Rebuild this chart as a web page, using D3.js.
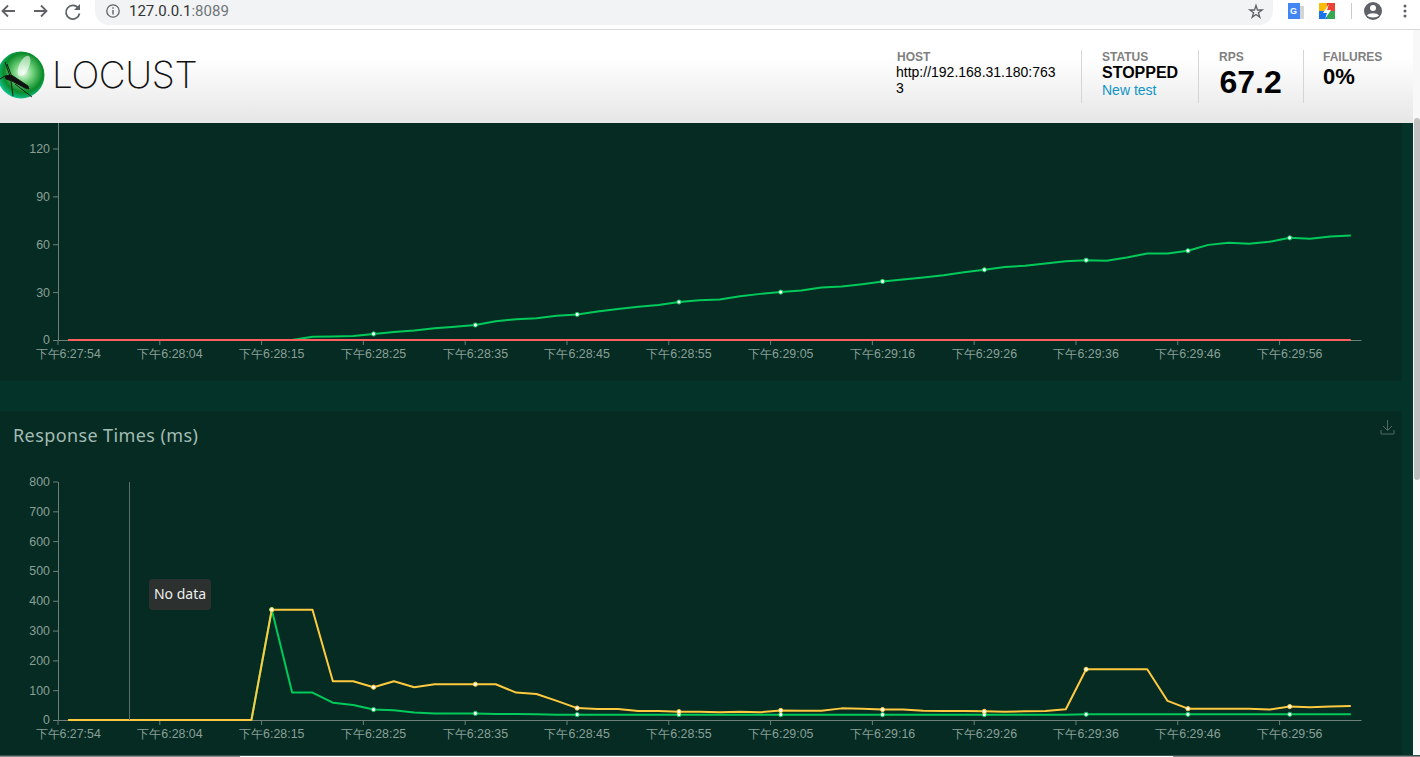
<!DOCTYPE html>
<html>
<head>
<meta charset="utf-8">
<script src="https://cdnjs.cloudflare.com/ajax/libs/d3/7.8.5/d3.min.js"></script>
<style>
  html, body { margin: 0; padding: 0; background: #fff; overflow: hidden; }
  svg { display: block; font-family: "Liberation Sans", "Noto Sans CJK SC", sans-serif; }
</style>
</head>
<body>
<script>
// sample times of the charts, one per point
const times = [
  "6:27:54","6:27:56","6:27:58","6:28:00","6:28:02","6:28:04","6:28:06","6:28:08","6:28:10","6:28:12",
  "6:28:15","6:28:17","6:28:19","6:28:21","6:28:23","6:28:25","6:28:27","6:28:29","6:28:31","6:28:33",
  "6:28:35","6:28:37","6:28:39","6:28:41","6:28:43","6:28:45","6:28:47","6:28:49","6:28:51","6:28:53",
  "6:28:55","6:28:57","6:28:59","6:29:01","6:29:03","6:29:05","6:29:07","6:29:09","6:29:11","6:29:13",
  "6:29:16","6:29:18","6:29:20","6:29:22","6:29:24","6:29:26","6:29:28","6:29:30","6:29:32","6:29:34",
  "6:29:36","6:29:38","6:29:40","6:29:42","6:29:44","6:29:46","6:29:48","6:29:50","6:29:52","6:29:54",
  "6:29:56","6:29:58","6:30:00","6:30:02"
];

const rps = [
  0,0,0,0,0,0,0,0,0,0,
  0,0,2,2.2,2.5,3.8,5,6,7.4,8.3,
  9.4,11.8,13,13.7,15.2,16,17.8,19.4,20.9,22,
  23.8,24.9,25.4,27.4,28.9,30,31,32.9,33.5,35,
  36.7,37.9,39.2,40.6,42.5,44,45.8,46.5,47.9,49.4,
  50,49.6,51.7,54.2,54.2,55.9,59.6,60.9,60.3,61.5,
  64,63.4,64.8,65.5
];
const failures = times.map(() => 0);

const median = [
  0,0,0,0,0,0,0,0,0,0,
  370,92,92,58,50,35,33,25,22,22,
  22,20,20,19,18,18,18,18,18,18,
  18,18,18,18,18,18,18,18,18,18,
  18,18,18,18,18,18,18,18,18,18,
  19,19,19,19,19,19,19,19,19,19,
  19,19,19,19
];
const p95 = [
  0,0,0,0,0,0,0,0,0,0,
  370,370,370,130,130,110,130,110,120,120,
  120,120,92,87,64,40,37,37,30,30,
  28,28,26,28,26,32,31,31,39,38,
  35,35,31,30,30,29,28,29,30,36,
  170,170,170,170,64,38,38,38,38,35,
  45,43,45,47
];

const rpsTicks = [0, 30, 60, 90, 120];
const msTicks = [0, 100, 200, 300, 400, 500, 600, 700, 800];

const C_PAGE = "#04332a", C_PANEL = "#052b23", C_AXIS = "#6c8079", C_LABEL = "#8aa097";
const C_GREEN = "#00ca5a", C_RED = "#ff5f5f", C_YELLOW = "#ffca3f";

const W = 1420, H = 757;
const svg = d3.select("body").append("svg").attr("width", W).attr("height", H);

// page and panels
svg.append("rect").attr("width", W).attr("height", H).attr("fill", C_PAGE);
svg.append("rect").attr("x", -6).attr("y", 100).attr("width", 1408).attr("height", 281).attr("rx", 4).attr("fill", C_PANEL);
svg.append("rect").attr("x", -6).attr("y", 411).attr("width", 1408).attr("height", 360).attr("rx", 4).attr("fill", C_PANEL);

const x = d3.scaleBand().domain(d3.range(times.length)).range([58, 1361]);

function drawChart(y, ticks, seriesList, y0) {
  const g = svg.append("g");

  const xAxis = d3.axisBottom(x)
    .tickValues(d3.range(0, times.length, 5))
    .tickFormat(i => "下午" + times[i])
    .tickSize(5)
    .tickSizeOuter(0)
    .tickPadding(4);
  const ax = g.append("g").attr("transform", `translate(0,${y0})`).call(xAxis);
  ax.selectAll(".tick line").attr("x1", -x.step() / 2).attr("x2", -x.step() / 2);
  ax.selectAll("text").attr("font-size", 12.4).attr("fill", C_LABEL);
  ax.selectAll("path,line").attr("stroke", C_AXIS);

  const yAxis = d3.axisLeft(y).tickValues(ticks).tickSize(5).tickSizeOuter(0).tickPadding(3);
  const ay = g.append("g").attr("transform", "translate(58,0)").call(yAxis);
  ay.selectAll("text").attr("font-size", 12.4).attr("fill", C_LABEL);
  ay.selectAll("path,line").attr("stroke", C_AXIS);

  const line = d3.line()
    .x((d, i) => x(i) + x.bandwidth() / 2)
    .y(d => y(d));

  seriesList.forEach(s => {
    g.append("path").datum(s.values)
      .attr("fill", "none").attr("stroke", s.color).attr("stroke-width", 2)
      .attr("stroke-linejoin", "round").attr("d", line);
  });
  seriesList.forEach(s => {
    if (!s.symbols) return;
    g.selectAll(null)
      .data(s.values.map((v, i) => ({ v, i })).filter(d => d.i % 5 === 0 && d.v > 0))
      .join("circle")
      .attr("cx", d => x(d.i) + x.bandwidth() / 2)
      .attr("cy", d => y(d.v))
      .attr("r", 2.1)
      .attr("fill", "#fff")
      .attr("stroke", s.color)
      .attr("stroke-width", 1);
  });
  return g;
}

// requests per second, top of the axis runs under the header
const yRps = d3.scaleLinear().domain([0, 150]).range([340, 100.6]);
drawChart(yRps, rpsTicks, [
  { values: rps, color: C_GREEN, symbols: true },
  { values: failures, color: C_RED, symbols: false }
], 340);

// response times
const yMs = d3.scaleLinear().domain([0, 800]).range([720, 481.5]);
drawChart(yMs, msTicks, [
  { values: median, color: C_GREEN, symbols: true },
  { values: p95, color: C_YELLOW, symbols: true }
], 720);

svg.append("text").text("Response Times (ms)")
  .attr("x", 13).attr("y", 442).attr("font-size", 18).attr("letter-spacing", 0.4)
  .attr("font-family", "'Noto Sans', sans-serif").attr("fill", "#a3bcb3");

// download icon
svg.append("path").attr("d", "M1387.5 420v10M1383 426l4.5 4.5 4.5-4.5M1381 430v4h13v-4")
  .attr("fill", "none").attr("stroke", "#51695f").attr("stroke-width", 1);

// hover line and tooltip
svg.append("line").attr("x1", 129.5).attr("x2", 129.5).attr("y1", 482).attr("y2", 720)
  .attr("stroke", "#5b6f69").attr("stroke-width", 1);
svg.append("rect").attr("x", 149).attr("y", 579).attr("width", 62).attr("height", 31).attr("rx", 4).attr("fill", "#2c302e");
svg.append("text").text("No data").attr("x", 180).attr("y", 599).attr("text-anchor", "middle")
  .attr("font-size", 14).attr("font-family", "'Noto Sans', sans-serif").attr("fill", "#eee");

// header
const defs = svg.append("defs");
const headGrad = defs.append("linearGradient").attr("id", "headGrad").attr("x1", 0).attr("x2", 0).attr("y1", 0).attr("y2", 1);
headGrad.append("stop").attr("offset", "0%").attr("stop-color", "#fff");
headGrad.append("stop").attr("offset", "30%").attr("stop-color", "#fff");
headGrad.append("stop").attr("offset", "100%").attr("stop-color", "#e6e6e6");
const logoGrad = defs.append("radialGradient").attr("id", "logoGrad").attr("cx", "55%").attr("cy", "45%").attr("r", "58%");
logoGrad.append("stop").attr("offset", "0%").attr("stop-color", "#f0fdf0");
logoGrad.append("stop").attr("offset", "35%").attr("stop-color", "#6fd07a");
logoGrad.append("stop").attr("offset", "72%").attr("stop-color", "#0a8a28");
logoGrad.append("stop").attr("offset", "100%").attr("stop-color", "#12c79a");

svg.append("rect").attr("y", 0).attr("width", W).attr("height", 30).attr("fill", "#fff");
svg.append("rect").attr("y", 30).attr("width", W).attr("height", 93).attr("fill", "url(#headGrad)");
svg.append("rect").attr("y", 29).attr("width", W).attr("height", 1).attr("fill", "#d9d9d9");

// browser toolbar
svg.append("rect").attr("x", 95).attr("y", -20).attr("width", 1178).attr("height", 45).attr("rx", 14).attr("fill", "#f1f3f4");
svg.append("path").attr("d", "M15 11H3M8 5.5L2.5 11 8 16.5M34 11h12M41 5.5l5.5 5.5-5.5 5.5")
  .attr("fill", "none").attr("stroke", "#5f6368").attr("stroke-width", 1.8);
svg.append("path").attr("d", "M78.5 8.5a6.8 6.8 0 1 0 1 5").attr("fill", "none").attr("stroke", "#5f6368").attr("stroke-width", 1.8);
svg.append("path").attr("d", "M80 4v6h-6z").attr("fill", "#5f6368");
svg.append("circle").attr("cx", 113).attr("cy", 11).attr("r", 6.2).attr("fill", "none").attr("stroke", "#5f6368").attr("stroke-width", 1.3);
svg.append("path").attr("d", "M113 10v4.5M113 7.3v1.5").attr("stroke", "#5f6368").attr("stroke-width", 1.4);
const addr = svg.append("text").attr("x", 129).attr("y", 16).attr("font-size", 15).attr("font-family", "Roboto, sans-serif");
addr.append("tspan").text("127.0.0.1").attr("fill", "#333");
addr.append("tspan").text(":8089").attr("fill", "#70757a");
svg.append("path").attr("d", d3.symbol(d3.symbolStar, 48)()).attr("transform", "translate(1256,12)")
  .attr("fill", "none").attr("stroke", "#5f6368").attr("stroke-width", 1.3);
svg.append("rect").attr("x", 1296).attr("y", 6).attr("width", 8).attr("height", 13).attr("fill", "#d5d5d5");
svg.append("rect").attr("x", 1288).attr("y", 3).attr("width", 12).attr("height", 16).attr("fill", "#4285f4");
svg.append("text").text("G").attr("x", 1290).attr("y", 14).attr("font-size", 9).attr("font-weight", "bold").attr("fill", "#fff");
svg.append("rect").attr("x", 1319).attr("y", 3).attr("width", 8).attr("height", 8).attr("fill", "#fbbc05");
svg.append("rect").attr("x", 1327).attr("y", 3).attr("width", 8).attr("height", 8).attr("fill", "#ea4335");
svg.append("rect").attr("x", 1319).attr("y", 11).attr("width", 8).attr("height", 8).attr("fill", "#1a73e8");
svg.append("rect").attr("x", 1327).attr("y", 11).attr("width", 8).attr("height", 8).attr("fill", "#34a853");
svg.append("path").attr("d", "M1329 4l-6 9h4l-2 6 6-9h-4z").attr("fill", "#fff");
svg.append("rect").attr("x", 1351).attr("y", 3).attr("width", 1).attr("height", 16).attr("fill", "#ccc");
svg.append("circle").attr("cx", 1373).attr("cy", 11).attr("r", 9).attr("fill", "#5f6368");
svg.append("circle").attr("cx", 1373).attr("cy", 8).attr("r", 3).attr("fill", "#fff");
svg.append("path").attr("d", "M1367 15.5c2-3 10-3 12 0-2 2.5-10 2.5-12 0z").attr("fill", "#fff");
[6, 11, 16].forEach(cy => svg.append("circle").attr("cx", 1405).attr("cy", cy).attr("r", 1.5).attr("fill", "#5f6368"));

// logo
svg.append("circle").attr("cx", 21).attr("cy", 75).attr("r", 23.5).attr("fill", "url(#logoGrad)");
svg.append("ellipse").attr("cx", 24).attr("cy", 66).attr("rx", 5).attr("ry", 11).attr("transform", "rotate(25 24 66)")
  .attr("fill", "#fff").attr("fill-opacity", 0.55);
svg.append("path").attr("d", "M5 76l5-1 3 1 15 10 1 3-4-1-13-7-6-2zM5 62l5 14M7 64l5 13M11 81l2 15M15 84l17 13M5 76l-5 3")
  .attr("fill", "#111").attr("stroke", "#111").attr("stroke-width", 0.9);
svg.append("text").text("LOCUST").attr("x", 52).attr("y", 88).attr("font-size", 37)
  .attr("font-family", "Inter, sans-serif").attr("font-weight", 200).attr("letter-spacing", -0.4).attr("fill", "#111");

// stats
const statLabels = [["HOST", 897], ["STATUS", 1102], ["RPS", 1219], ["FAILURES", 1323]];
statLabels.forEach(d => svg.append("text").text(d[0]).attr("x", d[1]).attr("y", 61)
  .attr("font-size", 12).attr("font-weight", "bold").attr("fill", "#808080"));
[1081, 1198, 1303].forEach(px => svg.append("rect").attr("x", px).attr("y", 50).attr("width", 1).attr("height", 53).attr("fill", "#d5d5d5"));
svg.append("text").text("http://192.168.31.180:763").attr("x", 896).attr("y", 77).attr("font-size", 14).attr("fill", "#000");
svg.append("text").text("3").attr("x", 896).attr("y", 93).attr("font-size", 14).attr("fill", "#000");
svg.append("text").text("STOPPED").attr("x", 1102).attr("y", 78).attr("font-size", 16).attr("font-weight", "bold").attr("fill", "#000");
svg.append("text").text("New test").attr("x", 1102).attr("y", 95).attr("font-size", 14).attr("fill", "#0f94c8");
svg.append("text").text("67.2").attr("x", 1219.5).attr("y", 93).attr("font-size", 32).attr("font-weight", "bold").attr("fill", "#000");
svg.append("text").text("0%").attr("x", 1323).attr("y", 84).attr("font-size", 22).attr("font-weight", "bold").attr("fill", "#000");

// scrollbar and bottom edge
svg.append("rect").attr("x", 1413).attr("y", 30).attr("width", 7).attr("height", H - 30).attr("fill", "#f8f8f8");
svg.append("rect").attr("x", 1414).attr("y", 118).attr("width", 6).attr("height", 362).attr("rx", 3).attr("fill", "#c1c1c1");
svg.append("rect").attr("y", 755).attr("width", W).attr("height", 1).attr("fill", "#36534b");
svg.append("rect").attr("y", 756).attr("width", W).attr("height", 1).attr("fill", "#fff");
svg.append("rect").attr("y", 756).attr("width", 240).attr("height", 1).attr("fill", "#8a8a8a");
svg.append("rect").attr("x", 1173).attr("y", 756).attr("width", 247).attr("height", 1).attr("fill", "#8a8a8a");
</script>
</body>
</html>
